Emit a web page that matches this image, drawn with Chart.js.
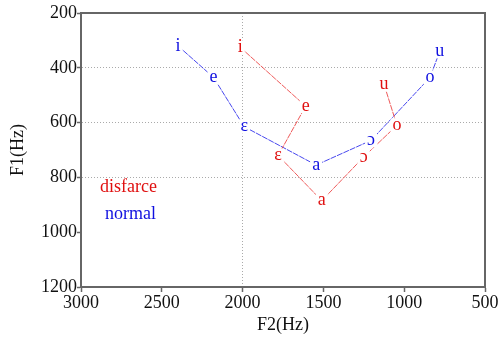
<!DOCTYPE html>
<html>
<head>
<meta charset="utf-8">
<script src="https://cdn.jsdelivr.net/npm/chart.js@4/dist/chart.umd.min.js"></script>
<style>
  html, body { margin: 0; padding: 0; background: #fff; }
  #wrap { width: 499px; height: 338px; }
</style>
</head>
<body>
<div id="wrap"><canvas id="chart"></canvas></div>
<script>
// vowel labels, same order for both speakers
const vowels = ["i", "e", "ɛ", "a", "ɔ", "o", "u"];
const normalF2 = [2400, 2180, 1990, 1545, 1205, 840, 780];
const normalF1 = [320, 435, 615, 755, 665, 435, 340];
const disfarceF2 = [2015, 1610, 1780, 1510, 1250, 1045, 1125];
const disfarceF1 = [325, 540, 720, 885, 725, 610, 460];
const xTicks = [3000, 2500, 2000, 1500, 1000, 500];
const yTicks = [200, 400, 600, 800, 1000, 1200];
const xGrid = [2000];
const yGrid = [400, 600, 800];

const serif = "'Liberation Serif', 'DejaVu Serif', serif";
const axisColor = "#666";
const fontSize = 18;

function toPoints(xs, ys) {
  return xs.map((x, i) => ({ x: x, y: ys[i] }));
}

// draws the vowel letters on top of every point
const vowelLabels = {
  id: "vowelLabels",
  afterDatasetsDraw(chart) {
    const ctx = chart.ctx;
    ctx.save();
    ctx.font = fontSize + "px " + serif;
    ctx.textAlign = "center";
    ctx.textBaseline = "middle";
    chart.data.datasets.forEach((ds, i) => {
      const meta = chart.getDatasetMeta(i);
      meta.data.forEach((pt, j) => {
        const txt = vowels[j];
        const w = ctx.measureText(txt).width;
        ctx.fillStyle = "#fff";
        ctx.fillRect(pt.x - w / 2 - 2, pt.y - 7, w + 4, 14);
        ctx.fillStyle = ds.textColor;
        ctx.fillText(txt, pt.x, pt.y);
      });
    });
    ctx.restore();
  }
};

// frame on top/right + the little text legend
const frameAndLegend = {
  id: "frameAndLegend",
  afterDraw(chart) {
    const { ctx, chartArea: a } = chart;
    ctx.save();
    ctx.strokeStyle = axisColor;
    ctx.lineWidth = 2;
    ctx.beginPath();
    ctx.moveTo(a.left, a.top);
    ctx.lineTo(a.right, a.top);
    ctx.lineTo(a.right, a.bottom);
    ctx.stroke();

    ctx.font = fontSize + "px " + serif;
    ctx.textAlign = "left";
    ctx.textBaseline = "alphabetic";
    ctx.fillStyle = "#e01010";
    ctx.fillText("disfarce", a.left + 19, 192);
    ctx.fillStyle = "#1010e0";
    ctx.fillText("normal", a.left + 24, 219);
    ctx.restore();
  }
};

new Chart(document.getElementById("chart"), {
  type: "line",
  data: {
    datasets: [
      {
        label: "disfarce",
        data: toPoints(disfarceF2, disfarceF1),
        borderColor: "rgba(235,60,60,0.85)",
        textColor: "#e01010",
        borderWidth: 1,
        borderDash: [6, 1],
        pointRadius: 0,
        fill: false,
        tension: 0
      },
      {
        label: "normal",
        data: toPoints(normalF2, normalF1),
        borderColor: "rgba(40,40,235,0.85)",
        textColor: "#1010e0",
        borderWidth: 1,
        borderDash: [6, 1],
        pointRadius: 0,
        fill: false,
        tension: 0
      }
    ]
  },
  options: {
    responsive: true,
    maintainAspectRatio: false,
    animation: false,
    layout: { padding: { top: 13, right: 14, left: 0, bottom: 0 } },
    plugins: {
      legend: { display: false },
      tooltip: { enabled: false }
    },
    scales: {
      x: {
        type: "linear",
        min: 500,
        max: 3000,
        reverse: true,
        afterBuildTicks: (s) => { s.ticks = xTicks.map(v => ({ value: v })); },
        afterFit: (s) => { s.height = 51; },
        ticks: { font: { family: serif, size: fontSize }, color: "#111", padding: 0, maxRotation: 0, callback: (v) => String(v) },
        grid: {
          color: (c) => (c.tick && xGrid.includes(c.tick.value)) ? "#aaa" : "rgba(0,0,0,0)",
          lineWidth: 1,
          tickColor: axisColor,
          tickLength: 5,
          tickWidth: 1.5,
          tickBorderDash: []
        },
        border: { color: axisColor, width: 2, dash: [1, 2] },
        title: { display: true, text: "F2(Hz)", font: { family: serif, size: fontSize }, color: "#111", padding: { top: 0, bottom: 2 } }
      },
      y: {
        type: "linear",
        min: 200,
        max: 1200,
        reverse: true,
        afterBuildTicks: (s) => { s.ticks = yTicks.map(v => ({ value: v })); },
        afterFit: (s) => { s.width = 81; },
        ticks: { font: { family: serif, size: fontSize }, color: "#111", padding: 0, callback: (v) => String(v) },
        grid: {
          color: (c) => (c.tick && yGrid.includes(c.tick.value)) ? "#aaa" : "rgba(0,0,0,0)",
          lineWidth: 1,
          tickColor: axisColor,
          tickLength: 4,
          tickWidth: 1.5,
          tickBorderDash: []
        },
        border: { color: axisColor, width: 2, dash: [1, 2] },
        title: { display: true, text: "F1(Hz)", font: { family: serif, size: fontSize }, color: "#111", padding: { top: 7, bottom: 4 } }
      }
    }
  },
  plugins: [vowelLabels, frameAndLegend]
});
</script>
</body>
</html>
